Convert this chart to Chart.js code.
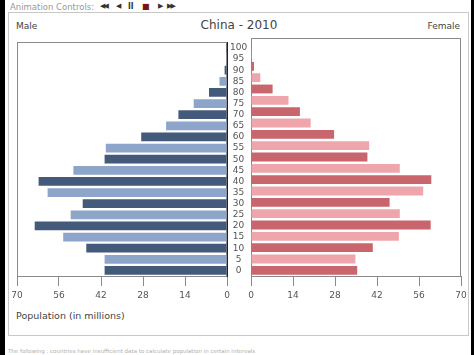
<!DOCTYPE html>
<html>
<head>
    <title>China - 2010</title>
    <script src="https://cdn.jsdelivr.net/npm/chart.js"></script>
    <style>
        body { margin: 0; width: 474px; height: 355px; background: #000; font-family: "DejaVu Sans"; overflow: hidden; position: relative; }
        #pagina { position: absolute; left: 5px; top: 0; width: 466px; height: 355px; background: #fff; }
        .txt { position: absolute; white-space: nowrap; line-height: 1; color: #444; }
        #caixa { position: absolute; left: 8px; top: 12px; width: 459px; height: 322px; border: 1px solid #c8c8c8; }
        canvas { position: absolute; }
    </style>
</head>
<body>
    <div id="pagina"></div>
    <div id="caixa"></div>

    <div class="txt" style="left: 10px; top: 3px; font-size: 8.5px; color: #999;">Animation Controls:</div>
    <div class="txt" style="left: 100px; top: 3px; font-size: 7px; color: #333; letter-spacing: -2px;">◀◀</div>
    <div class="txt" style="left: 116px; top: 3px; font-size: 7px; color: #333;">◀</div>
    <div class="txt" style="left: 128px; top: 3px; font-size: 8px; color: #333; font-weight: bold;">ll</div>
    <div class="txt" style="left: 142px; top: 3px; font-size: 8px; color: #7a1414;">■</div>
    <div class="txt" style="left: 158px; top: 3px; font-size: 7px; color: #333;">▶</div>
    <div class="txt" style="left: 167px; top: 3px; font-size: 7px; color: #333; letter-spacing: -2px;">▶▶</div>

    <div class="txt" style="left: 16px; top: 22px; font-size: 9px;">Male</div>
    <div class="txt" style="left: 0; width: 478px; text-align: center; top: 19px; font-size: 12px;">China - 2010</div>
    <div class="txt" style="right: 14px; top: 22px; font-size: 9px;">Female</div>
    <div class="txt" style="left: 16px; top: 311px; font-size: 9.5px;">Population (in millions)</div>
    <div class="txt" style="left: 8px; top: 349px; font-size: 5.5px; color: #b0b0b0;">The following : countries have insufficient data to calculate population in certain intervals</div>

    <canvas id="graficoH" width="251" height="272" style="left: 0; top: 34px;"></canvas>
    <canvas id="graficoM" width="233" height="272" style="left: 241px; top: 34px;"></canvas>

    <script>
        // faixas etarias (de baixo para cima)
        const idades = ['0', '5', '10', '15', '20', '25', '30', '35', '40', '45', '50',
            '55', '60', '65', '70', '75', '80', '85', '90', '95', '100'];
        // populacao em milhoes
        const homens = [40.8, 40.8, 46.9, 54.6, 64.1, 52.1, 48.1, 59.8, 62.8, 51.2, 40.8,
            40.4, 28.6, 20.3, 16.2, 11.1, 6.0, 2.5, 0.8, 0.12, 0.02];
        const mulheres = [35.4, 34.8, 40.6, 49.3, 59.9, 49.6, 46.2, 57.4, 60.1, 49.6, 38.8,
            39.4, 27.7, 19.9, 16.3, 12.5, 7.2, 3.1, 1.0, 0.25, 0.04];
        const ticksX = [0, 14, 28, 42, 56, 70];

        const corH = ['#435a7a', '#8da5c8'];
        const corM = ['#c8656d', '#eea6ac'];

        // moldura cinza em volta da area do grafico
        const moldura = {
            id: 'moldura',
            beforeDraw(chart) {
                const a = chart.chartArea;
                const c = chart.ctx;
                c.save();
                c.strokeStyle = '#8a8a8a';
                c.lineWidth = 1;
                c.strokeRect(Math.round(a.left) + 0.5, Math.round(a.top) + 0.5,
                    Math.round(a.right - a.left) - 1, Math.round(a.bottom - a.top));
                c.restore();
            }
        };

        function eixoX(inverter) {
            return {
                type: 'linear',
                min: 0,
                max: 70,
                reverse: inverter,
                afterBuildTicks: s => { s.ticks = ticksX.map(v => ({ value: v })); },
                afterFit: s => { s.height = 30; },
                grid: { drawOnChartArea: false, drawTicks: true, tickLength: 10, color: '#8a8a8a' },
                border: { color: '#8a8a8a' },
                ticks: { padding: 4, color: '#555', font: { family: 'DejaVu Sans', size: 9 }, maxRotation: 0 }
            };
        }

        function criar(id, valores, cores, lado) {
            const esquerda = lado === 'H';
            const eixoY = {
                display: esquerda,
                position: 'right',
                reverse: true,
                grid: { display: false, drawTicks: false },
                border: { display: true, color: '#222', width: 1 },
                ticks: {
                    autoSkip: false,
                    crossAlign: 'center',
                    padding: 3,
                    color: '#555',
                    font: { family: 'DejaVu Sans', size: 9 }
                }
            };
            if (esquerda) eixoY.afterFit = s => { s.width = 24; };

            return new Chart(document.getElementById(id), {
                type: 'bar',
                data: {
                    labels: idades,
                    datasets: [{
                        data: valores,
                        backgroundColor: valores.map((v, i) => cores[i % 2]),
                        borderWidth: 0,
                        barPercentage: 0.78,
                        categoryPercentage: 1
                    }]
                },
                options: {
                    indexAxis: 'y',
                    responsive: false,
                    animation: false,
                    events: [],
                    layout: {
                        padding: esquerda ? { left: 17, top: 4, right: 0, bottom: 0 }
                            : { left: 10, top: 4, right: 13, bottom: 0 }
                    },
                    scales: {
                        x: eixoX(esquerda),
                        y: eixoY
                    },
                    plugins: {
                        legend: { display: false },
                        tooltip: { enabled: false }
                    }
                },
                plugins: [moldura]
            });
        }

        criar('graficoH', homens, corH, 'H');
        criar('graficoM', mulheres, corM, 'M');
    </script>
</body>
</html>
